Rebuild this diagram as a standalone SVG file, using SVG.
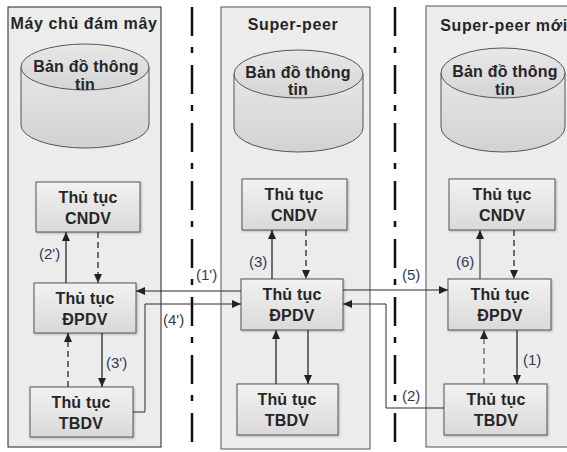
<svg xmlns="http://www.w3.org/2000/svg" width="567" height="452" viewBox="0 0 567 452">
<defs>
<linearGradient id="boxg" x1="0" y1="0" x2="0" y2="1">
<stop offset="0" stop-color="#f2f2f2"/><stop offset="1" stop-color="#d9d9d9"/>
</linearGradient>
<linearGradient id="cylg" x1="0" y1="0" x2="0" y2="1">
<stop offset="0" stop-color="#e6e6e6"/><stop offset="1" stop-color="#d2d2d2"/>
</linearGradient>
<linearGradient id="topg" x1="0" y1="0" x2="0" y2="1">
<stop offset="0" stop-color="#e8e8e8"/><stop offset="1" stop-color="#d4d4d4"/>
</linearGradient>
<marker id="ah" markerWidth="10" markerHeight="10" refX="9" refY="5" orient="auto" markerUnits="userSpaceOnUse">
<path d="M0,1 L9,5 L0,9 Z" fill="#222"/>
</marker>
<filter id="sh" x="-10%" y="-10%" width="130%" height="130%">
<feDropShadow dx="1" dy="1" stdDeviation="0.8" flood-color="#000" flood-opacity="0.25"/>
</filter>
</defs>
<style>
.panel{fill:#ececec;stroke:#555;stroke-width:1}
.box{fill:url(#boxg);stroke:#555;stroke-width:1;filter:url(#sh)}
.cyl{fill:url(#cylg);stroke:#555;stroke-width:1}
.cyltop{fill:url(#topg);stroke:#555;stroke-width:1}
.t{font-family:"Liberation Sans",Arial,sans-serif;font-weight:bold;font-size:16px;letter-spacing:0.2px;fill:#262626;text-anchor:middle}
.title{font-family:"Liberation Sans",Arial,sans-serif;font-weight:bold;font-size:16px;letter-spacing:0.6px;fill:#262626;text-anchor:middle}
.lbl{font-family:"Liberation Sans",Arial,sans-serif;font-size:15px;fill:#333a58}
.c{fill:none;stroke:#2a2a2a;stroke-width:1.3;marker-end:url(#ah)}
.d{fill:none;stroke:#2a2a2a;stroke-width:1.3;stroke-dasharray:6 4;marker-end:url(#ah)}
.thin{fill:none;stroke:#2a2a2a;stroke-width:1;marker-end:url(#ah)}
.sep{stroke:#111;stroke-width:2.5;stroke-dasharray:29 11 6 12}
</style>

<g id="panel-cloud">
<rect class="panel" x="8" y="7" width="153" height="440" style="stroke:#222"/>
<text class="title" x="84" y="29">Máy chủ đám mây</text>
</g>
<g id="panel-superpeer">
<rect class="panel" x="221" y="7" width="149" height="442"/>
<text class="title" x="293" y="30">Super-peer</text>
</g>
<g id="panel-new">
<rect class="panel" x="426" y="6" width="150" height="441"/>
<text class="title" x="504" y="31">Super-peer mới</text>
</g>

<g id="separators">
<line class="sep" x1="192" y1="7" x2="192" y2="452"/>
<line class="sep" x1="395" y1="7" x2="395" y2="452"/>
</g>

<g id="db-cloud">
<path class="cyl" d="M21,67 V125 A64,23 0 0 0 149,125 V67"/>
<ellipse class="cyltop" cx="85" cy="67" rx="64" ry="23"/>
<text class="t" x="86" y="72">Bản đồ thông</text>
<text class="t" x="85" y="90">tin</text>
</g>
<g id="db-sp">
<path class="cyl" d="M234,74 V128 A64.5,24 0 0 0 363,128 V74"/>
<ellipse class="cyltop" cx="298.5" cy="74" rx="64.5" ry="24"/>
<text class="t" x="298" y="78">Bản đồ thông</text>
<text class="t" x="298" y="95">tin</text>
</g>
<g id="db-new">
<path class="cyl" d="M441,73 V127 A62,25 0 0 0 565,127 V73"/>
<ellipse class="cyltop" cx="503" cy="73" rx="62" ry="25"/>
<text class="t" x="505" y="77">Bản đồ thông</text>
<text class="t" x="505" y="95">tin</text>
</g>

<g id="cndv-cloud"><rect class="box" x="36" y="182" width="104" height="50"/><text class="t" x="88" y="203">Thủ tục</text><text class="t" x="88" y="224">CNDV</text></g>
<g id="dpdv-cloud"><rect class="box" x="34" y="283" width="102" height="50"/><text class="t" x="85" y="304">Thủ tục</text><text class="t" x="85" y="325">ĐPDV</text></g>
<g id="tbdv-cloud"><rect class="box" x="30" y="387" width="103" height="50"/><text class="t" x="81" y="408">Thủ tục</text><text class="t" x="81" y="429">TBDV</text></g>

<g id="cndv-sp"><rect class="box" x="242" y="179" width="105" height="51"/><text class="t" x="294" y="200">Thủ tục</text><text class="t" x="294" y="221">CNDV</text></g>
<g id="dpdv-sp"><rect class="box" x="241" y="279" width="102" height="51"/><text class="t" x="292" y="300">Thủ tục</text><text class="t" x="292" y="321">ĐPDV</text></g>
<g id="tbdv-sp"><rect class="box" x="237" y="384" width="101" height="51"/><text class="t" x="287" y="405">Thủ tục</text><text class="t" x="287" y="426">TBDV</text></g>

<g id="cndv-new"><rect class="box" x="449" y="179" width="106" height="51"/><text class="t" x="502" y="200">Thủ tục</text><text class="t" x="502" y="221">CNDV</text></g>
<g id="dpdv-new"><rect class="box" x="448" y="279" width="103" height="51"/><text class="t" x="500" y="300">Thủ tục</text><text class="t" x="500" y="321">ĐPDV</text></g>
<g id="tbdv-new"><rect class="box" x="444" y="384" width="103" height="51"/><text class="t" x="496" y="405">Thủ tục</text><text class="t" x="496" y="426">TBDV</text></g>

<g id="connectors">
<path class="c" d="M66,283 V232"/>
<path class="d" d="M98,232 V283"/>
<path class="d" d="M68,387 V333"/>
<path class="c" d="M102,333 V387"/>
<path class="thin" d="M133,412 H145 V304 H241"/>
<path class="thin" d="M241,291 H136"/>

<path class="c" d="M272,279 V230"/>
<path class="d" d="M306,230 V279"/>
<path class="c" d="M276,384 V330"/>
<path class="c" d="M308,330 V384"/>
<path class="thin" d="M343,290 H448"/>
<path class="thin" d="M444,408 H386 V304 H343"/>

<path class="c" d="M480,279 V230" style="stroke:#555"/>
<path class="d" d="M514,230 V279"/>
<path class="d" d="M484,384 V330" style="stroke:#666"/>
<path class="c" d="M517,330 V384"/>

<text class="lbl" x="39" y="259">(2')</text>
<text class="lbl" x="106" y="368">(3')</text>
<text class="lbl" x="163" y="325">(4')</text>
<text class="lbl" x="196" y="280">(1')</text>
<text class="lbl" x="249" y="267">(3)</text>
<text class="lbl" x="402" y="280">(5)</text>
<text class="lbl" x="402" y="401">(2)</text>
<text class="lbl" x="456" y="267">(6)</text>
<text class="lbl" x="523" y="365">(1)</text>
</g>
</svg>
